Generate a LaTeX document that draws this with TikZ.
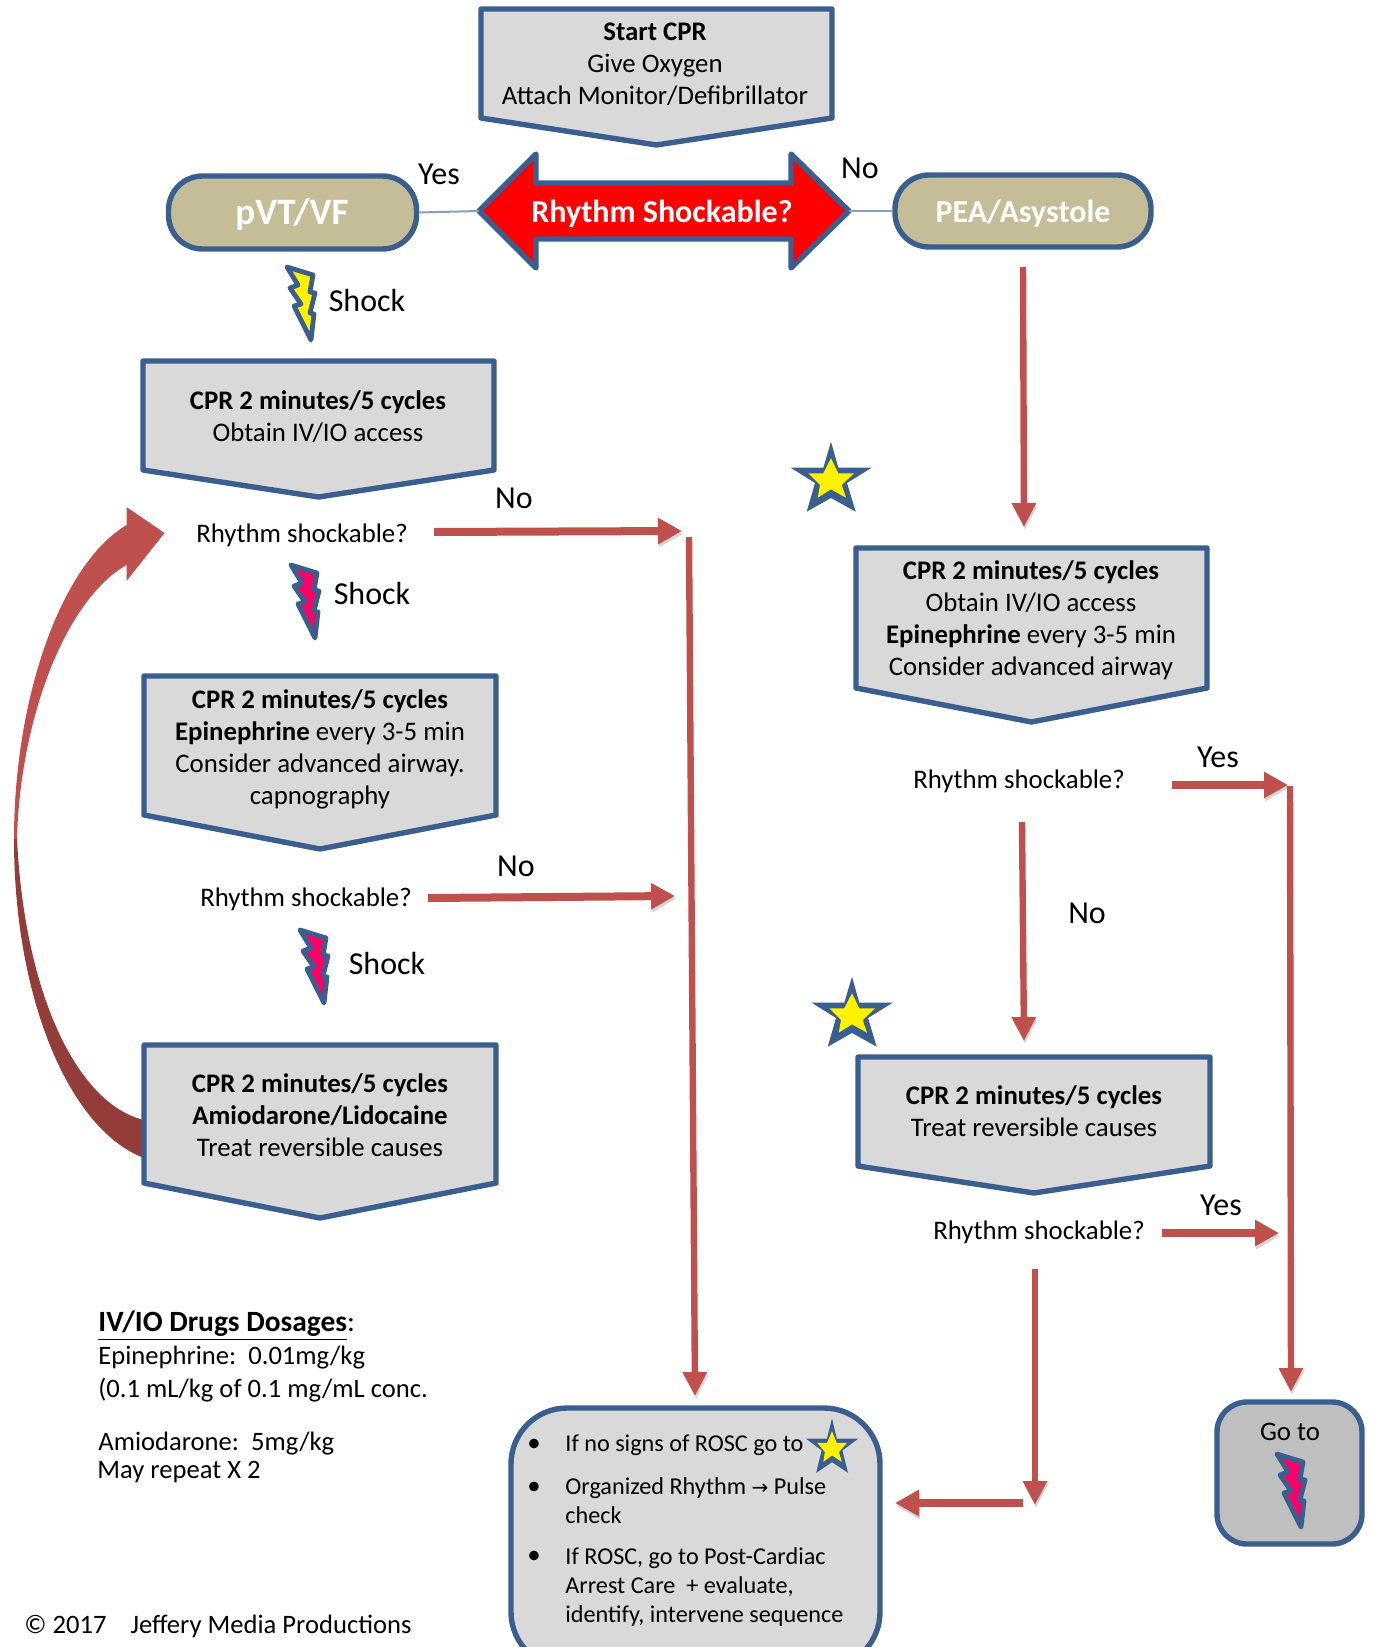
\documentclass[tikz,border=0pt]{standalone}
\usepackage{fontspec}
\setmainfont{Carlito}
\newfontfamily\symfont{DejaVu Sans}
\usetikzlibrary{arrows.meta}
\definecolor{boxblue}{HTML}{3A5F8F}
\definecolor{boxgray}{HTML}{D9D9D9}
\definecolor{boxgray2}{HTML}{BFBFBF}
\definecolor{tan}{HTML}{C4BD97}
\definecolor{arrowred}{HTML}{C0504D}
\definecolor{arrowdark}{HTML}{943C39}
\definecolor{pink}{HTML}{FF0066}
\newcommand{\bodyfont}{\fontsize{13.4}{16}\selectfont}
\newcommand{\notefont}{\fontsize{13.3}{16}\selectfont}
\newcommand{\bigfont}{\fontsize{16}{19}\selectfont}
\newcommand{\listfont}{\fontsize{12.1}{14.5}\selectfont}
\tikzset{
  shapeline/.style={draw=boxblue,line width=2.7pt,line join=round},
  textbox/.style={align=center,inner sep=0pt,font=\bodyfont,text=black},
  lefttext/.style={align=left,anchor=west,inner sep=0pt,font=\notefont,text=black},
  biglabel/.style={inner sep=0pt,font=\bigfont,text=black},
  pill/.style={shapeline,fill=tan,rectangle,inner sep=0pt},
  whitebold/.style={inner sep=0pt,text=white,font=\bfseries},
  thinline/.style={draw=boxblue!60,line width=1pt},
  softshade/.style={preaction={draw=black!16,transform canvas={shift={(0.5pt,-1.5pt)}}}},
  fatarrow/.style={softshade,draw=arrowred,line width=4pt,-{Triangle[length=12pt,width=12.5pt]}},
  slimarrow/.style={softshade,draw=arrowred,line width=3.2pt,-{Triangle[length=12pt,width=11.5pt]}},
}
% pentagon (off-page connector) box: name, x1, x2, ytop, yshoulder, ytip
\newcommand{\offpage}[6]{%
  \coordinate (#1-c) at ({(#2+#3)/2},#6);
  \draw[shapeline,fill=boxgray] (#2,#4) -- (#3,#4) -- (#3,#5) -- (#1-c) -- (#2,#5) -- cycle;}
% lightning bolt: x, y of top-left, fill
\newcommand{\boltmark}[3]{%
  \draw[shapeline,line width=2.4pt,fill=#3,shift={(#1,#2)}]
    (0,0) -- (26,8) -- (23,25) -- (28,26) -- (23,46) -- (27,47) -- (24,73)
    -- (7,39) -- (14,37) -- (3,21) -- (11,18) -- cycle;}
% star: x, y of centre, xscale, yscale
\newcommand{\starmark}[4]{%
  \begin{scope}[shift={(#1,#2)},xscale=#3,yscale=#4]
  \fill[boxblue] (0,-43.3) -- (7.3,-17.3) -- (40.7,-17.3) -- (16,-2) -- (24.7,26.7)
    -- (0,13) -- (-24.3,26.7) -- (-16,-2) -- (-40.3,-17.3) -- (-7.7,-17.3) -- cycle;
  \fill[yellow] (0,-26.7) -- (7.3,-11.7) -- (23,-11.7) -- (10.7,0) -- (15,12.7)
    -- (0,4.3) -- (-13.3,12.7) -- (-11,0) -- (-22.7,-11.7) -- (-7.7,-11.7) -- cycle;
  \end{scope}}
\begin{document}
\begin{tikzpicture}[x=0.5pt,y=-0.5pt]
\useasboundingbox (0,0) rectangle (1373,1647);
\clip (0,0) rectangle (1373,1647);

% curved return arrow
\fill[arrowdark] (14,839) .. controls (14,1000) and (70,1130) .. (144,1158)
  -- (144,1120) .. controls (80,1105) and (25,1000) .. (17,839) -- cycle;
\fill[arrowred] (14,839) .. controls (14,700) and (60,565) .. (126.5,525)
  -- (126.5,507) -- (164.5,533) -- (126.5,581) -- (126.5,565)
  .. controls (65,600) and (20,720) .. (17,839) -- cycle;

% boxes
\offpage{top}{481}{832}{9}{118}{145}
\node[textbox] (toptext) at (655,64) {\textbf{Start CPR}\\Give Oxygen\\Attach Monitor/Defibrillator};

\offpage{lefta}{143}{494}{361}{470}{497}
\node[textbox] (leftatext) at (318,417) {\textbf{CPR 2 minutes/5 cycles}\\Obtain IV/IO access};

\offpage{leftb}{144}{496}{676}{815}{849}
\node[textbox] (leftbtext) at (320,749) {\textbf{CPR 2 minutes/5 cycles}\\\textbf{Epinephrine} every 3-5 min\\Consider advanced airway.\\capnography};

\offpage{leftc}{144}{496}{1045}{1183}{1218}
\node[textbox] (leftctext) at (320,1115) {\textbf{CPR 2 minutes/5 cycles}\\\textbf{Amiodarone/Lidocaine}\\Treat reversible causes};

\offpage{righta}{856}{1207}{548}{688}{722}
\node[textbox] (rightatext) at (1031,620) {\textbf{CPR 2 minutes/5 cycles}\\Obtain IV/IO access\\\textbf{Epinephrine} every 3-5 min\\Consider advanced airway};

\offpage{rightb}{858}{1210}{1057}{1166}{1193}
\node[textbox] (rightbtext) at (1034,1111) {\textbf{CPR 2 minutes/5 cycles}\\Treat reversible causes};

% pills and central decision
\node[pill,rounded corners=17pt,minimum width=124pt,minimum height=36.5pt] (pvt) at (292.5,212.5) {};
\node[whitebold,font=\fontsize{18.6}{20}\selectfont\bfseries] (pvttext) at (292,214) {pVT/VF};
\node[pill,rounded corners=17pt,minimum width=128pt,minimum height=36pt] (pea) at (1023,211) {};
\node[whitebold,font=\fontsize{16}{20}\selectfont\bfseries] (peatext) at (1023,214) {PEA/Asystole};

\coordinate (rl) at (479,211);
\coordinate (rr) at (849,211);
\draw[shapeline,fill=red] (rl) -- (536,154) -- (536,183) -- (791,183) -- (791,154) -- (rr)
  -- (791,268) -- (791,239) -- (536,239) -- (536,268) -- cycle;
\node[whitebold,font=\fontsize{16}{20}\selectfont\bfseries] (rtext) at (662,214) {Rhythm Shockable?};
\draw[thinline] (pvt.east) -- (rl);
\draw[thinline] (rr) -- (pea.west);

% plain labels
\node[biglabel] (yes1) at (439,174) {Yes};
\node[biglabel] (no1) at (860,168) {No};
\node[biglabel] (shock1) at (367,301) {Shock};
\node[biglabel] (shock2) at (372,593) {Shock};
\node[biglabel] (shock3) at (387,963) {Shock};
\node[biglabel] (no2) at (514,498) {No};
\node[biglabel] (no3) at (516,866) {No};
\node[biglabel] (no4) at (1087,913) {No};
\node[biglabel] (yes2) at (1218,757) {Yes};
\node[biglabel] (yes3) at (1221,1205) {Yes};
\node[textbox] (q1) at (302,535) {Rhythm shockable?};
\node[textbox] (q2) at (306,899) {Rhythm shockable?};
\node[textbox] (q3) at (1019,781) {Rhythm shockable?};
\node[textbox] (q4) at (1039,1232) {Rhythm shockable?};

% bolts and stars
\boltmark{287}{267}{yellow}
\boltmark{291}{565}{pink}
\boltmark{300}{930}{pink}
\starmark{831}{485}{1}{1}
\starmark{852}{1020}{1}{1}

% connectors
\coordinate (a1s) at (434,532); \coordinate (a1e) at (682,531);
\coordinate (a2s) at (428,898); \coordinate (a2e) at (675,896);
\coordinate (v1s) at (689,537); \coordinate (v1e) at (695,1396);
\coordinate (v2s) at (1023,267); \coordinate (v2e) at (1024,527);
\coordinate (a3s) at (1172,785); \coordinate (a3e) at (1288,785);
\coordinate (v3s) at (1290,786); \coordinate (v3e) at (1291,1392);
\coordinate (v4s) at (1022,822); \coordinate (v4e) at (1024,1041);
\coordinate (a4s) at (1162,1233); \coordinate (a4e) at (1279,1233);
\coordinate (v5s) at (1035,1269); \coordinate (v5e) at (1035,1505);
\coordinate (a5s) at (1023,1503); \coordinate (a5e) at (895,1503);
\draw[fatarrow] (a1s) -- (a1e);
\draw[fatarrow] (a2s) -- (a2e);
\draw[slimarrow] (v1s) -- (v1e);
\draw[slimarrow] (v2s) -- (v2e);
\draw[fatarrow] (a3s) -- (a3e);
\draw[slimarrow] (v3s) -- (v3e);
\draw[slimarrow] (v4s) -- (v4e);
\draw[fatarrow] (a4s) -- (a4e);
\draw[slimarrow] (v5s) -- (v5e);
\draw[fatarrow] (a5s) -- (a5e);

% bottom boxes
\node[shapeline,fill=boxgray,rectangle,rounded corners=28pt,minimum width=184.5pt,minimum height=130pt,inner sep=0pt] (rosc) at (695.5,1538) {};
\node[shapeline,fill=boxgray2,rectangle,rounded corners=15pt,minimum width=72.5pt,minimum height=71pt,inner sep=0pt] (goto) at (1289.5,1473) {};
\node[textbox] (gototext) at (1290,1432) {Go to};
\boltmark{1277}{1454}{pink}
\node[lefttext,font=\listfont] (b1) at (565,1445) {If no signs of ROSC go to};
\node[lefttext,font=\listfont,anchor=north west] (b2) at (565,1477) {Organized Rhythm {\symfont\fontsize{10}{14}\selectfont→} Pulse\\check};
\node[lefttext,font=\listfont,anchor=north west] (b3) at (565,1547) {If ROSC, go to Post-Cardiac\\Arrest Care\ \ + evaluate,\\identify, intervene sequence};
\node[textbox] (d1) at (534,1445) {•};
\node[textbox] (d2) at (534,1488) {•};
\node[textbox] (d3) at (534,1557) {•};
\starmark{832}{1452}{0.65}{0.78}

% notes
\node[lefttext,font=\fontsize{14.7}{16}\selectfont] (n1) at (98,1326) {\textbf{\underline{IV/IO Drugs Dosages}}:};
\node[lefttext] (n2) at (98,1358) {Epinephrine:\ \ 0.01mg/kg};
\node[lefttext] (n3) at (98,1390) {(0.1 mL/kg of 0.1 mg/mL conc.};
\node[lefttext] (n4) at (98,1444) {Amiodarone:\ \ 5mg/kg};
\node[lefttext] (n5) at (97,1472) {May repeat X 2};
\node[lefttext] (n6) at (24,1626) {© 2017\ \ \ \ Jeffery Media Productions};
\end{tikzpicture}
\end{document}
